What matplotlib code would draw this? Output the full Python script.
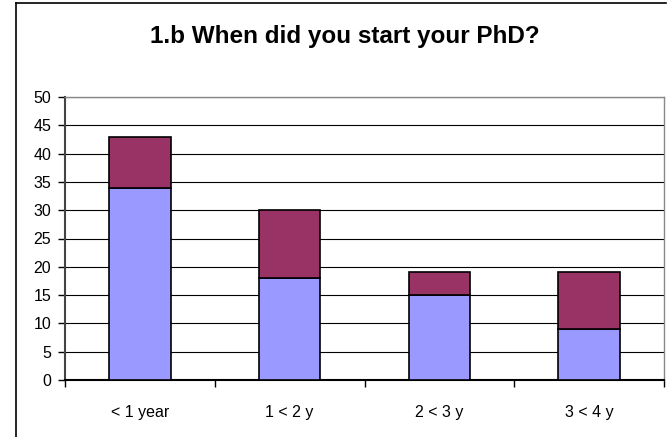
import matplotlib.pyplot as plt
from matplotlib.lines import Line2D

plt.rcParams['font.family'] = ['Liberation Sans', 'DejaVu Sans']

categories = ['< 1 year', '1 < 2 y', '2 < 3 y', '3 < 4 y']
lower = [34, 18, 15, 9]
upper = [9, 12, 4, 10]

fig = plt.figure(figsize=(6.71, 4.37), dpi=100)
ax = fig.add_axes([65 / 671, 1 - 380 / 437, 599 / 671, 283 / 437])

x = range(len(categories))
ax.bar(x, lower, width=0.41, color='#9999FF', edgecolor='black', linewidth=1.2, zorder=3)
ax.bar(x, upper, bottom=lower, width=0.41, color='#993366', edgecolor='black', linewidth=1.2, zorder=3)

ax.set_xlim(-0.5, 3.5)
ax.set_ylim(0, 50)
ax.set_yticks(range(0, 51, 5))
ax.set_xticks(list(x))
ax.set_xticklabels(categories, fontsize=11.5)
ax.set_xticks([-0.5, 0.5, 1.5, 2.5, 3.5], minor=True)
ax.tick_params(axis='x', which='major', length=0, pad=18)
ax.tick_params(axis='x', which='minor', length=5, width=1, direction='out')
ax.tick_params(axis='y', length=5, width=1, direction='out', labelsize=11.5, pad=5)
ax.yaxis.grid(True, color='black', linewidth=0.8, zorder=0)

for s in ['top', 'right']:
    ax.spines[s].set_color('#888888')
    ax.spines[s].set_linewidth(1)
ax.spines['left'].set_color('#444444')
ax.spines['left'].set_linewidth(1.5)
ax.spines['bottom'].set_color('black')
ax.spines['bottom'].set_linewidth(1.5)

fig.text(345 / 671, 1 - 43 / 437, '1.b When did you start your PhD?',
         ha='center', va='baseline', fontsize=17.5, fontweight='bold')

# outer chart frame
fig.add_artist(Line2D([16 / 671, 16 / 671], [0, 1 - 3 / 437], color='black', linewidth=1.2))
fig.add_artist(Line2D([16 / 671, 666 / 671], [1 - 3 / 437, 1 - 3 / 437], color='black', linewidth=1.2))

plt.savefig('out.png')
